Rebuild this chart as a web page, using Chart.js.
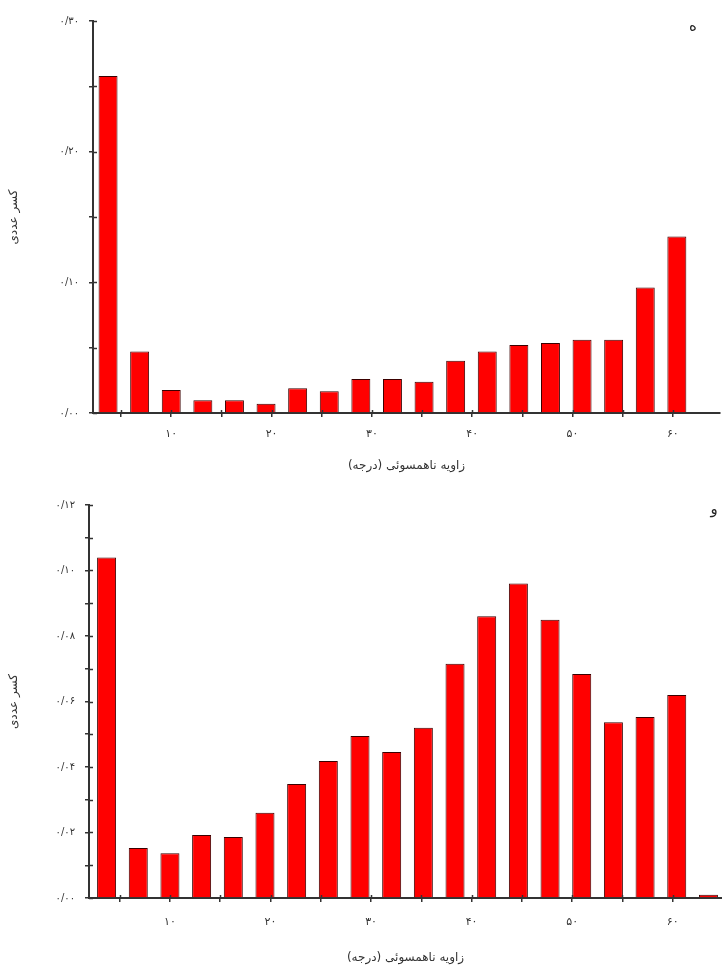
<!DOCTYPE html>
<html>
<head>
<meta charset="utf-8">
<script src="https://cdn.jsdelivr.net/npm/chart.js@4.4.0/dist/chart.umd.min.js"></script>
<style>
  body { margin: 0; background: #fff; }
  .box { position: absolute; left: 0; width: 722px; }
  #top-box { top: 0; height: 482px; }
  #bottom-box { top: 482px; height: 489px; }
</style>
</head>
<body>
<div class="box" id="top-box"><canvas id="chart-top" dir="rtl"></canvas></div>
<div class="box" id="bottom-box"><canvas id="chart-bottom" dir="rtl"></canvas></div>
<script>
// bin centres (degrees) of the misorientation histogram
const binAngles = [3.7, 6.85, 10.0, 13.15, 16.3, 19.45, 22.6, 25.75, 28.9, 32.05,
                   35.2, 38.35, 41.5, 44.65, 47.8, 50.95, 54.1, 57.25, 60.4, 63.55];

// panel e (top)
const fractionTop = [0.258, 0.047, 0.0176, 0.0098, 0.0098, 0.007, 0.019, 0.0167, 0.026, 0.026,
                     0.024, 0.040, 0.047, 0.052, 0.0535, 0.056, 0.056, 0.096, 0.135];
// panel f (bottom)
const fractionBottom = [0.104, 0.0153, 0.0137, 0.0192, 0.0186, 0.026, 0.0348, 0.0418, 0.0495, 0.0446,
                        0.052, 0.0715, 0.086, 0.096, 0.085, 0.0684, 0.0537, 0.0553, 0.062, 0.001];

const xTickValues = [10, 20, 30, 40, 50, 60];
const xTickLabels = ['۱۰', '۲۰', '۳۰', '۴۰', '۵۰', '۶۰'];
const yTopValues = [0, 0.1, 0.2, 0.3];
const yTopLabels = ['۰/۰۰', '۰/۱۰', '۰/۲۰', '۰/۳۰'];
const yBottomValues = [0, 0.02, 0.04, 0.06, 0.08, 0.10, 0.12];
const yBottomLabels = ['۰/۰۰', '۰/۰۲', '۰/۰۴', '۰/۰۶', '۰/۰۸', '۰/۱۰', '۰/۱۲'];

const xTitle = 'زاویه ناهمسوئی (درجه)';
const yTitle = 'کسر عددی';

const FONT = "'DejaVu Sans', sans-serif";

function labelFor(value, values, labels) {
    for (let i = 0; i < values.length; i++) {
        if (Math.abs(values[i] - value) < 1e-6) return labels[i];
    }
    return '';
}

// inner half of the crossing tick marks + panel letter
const extrasPlugin = {
    id: 'extras',
    afterDraw(chart, args, opts) {
        const ctx = chart.ctx;
        const area = chart.chartArea;
        ctx.save();
        ctx.strokeStyle = '#333';
        ctx.lineWidth = 1.5;
        chart.scales.y.ticks.forEach(t => {
            const py = Math.round(chart.scales.y.getPixelForValue(t.value)) + 0.5;
            ctx.beginPath();
            ctx.moveTo(area.left, py);
            ctx.lineTo(area.left + 4, py);
            ctx.stroke();
        });
        chart.scales.x.ticks.forEach(t => {
            const px = Math.round(chart.scales.x.getPixelForValue(t.value)) + 0.5;
            ctx.beginPath();
            ctx.moveTo(px, area.bottom);
            ctx.lineTo(px, area.bottom - 3);
            ctx.stroke();
        });
        ctx.fillStyle = '#222';
        ctx.font = '15px ' + FONT;
        ctx.textAlign = 'center';
        ctx.textBaseline = 'middle';
        ctx.fillText(opts.letter, area.right + opts.dx, area.top + opts.dy);
        ctx.restore();
    }
};

function makeChart(id, values, cfg) {
    const ctx = document.getElementById(id).getContext('2d');
    return new Chart(ctx, {
        type: 'bar',
        data: {
            datasets: [{
                data: values.map((v, i) => ({ x: binAngles[i], y: v })),
                backgroundColor: '#ff0000',
                borderColor: '#3a0000',
                borderWidth: 1,
                barPercentage: 0.6,
                categoryPercentage: 1.0
            }]
        },
        plugins: [extrasPlugin],
        options: {
            responsive: true,
            maintainAspectRatio: false,
            animation: false,
            layout: { padding: { top: cfg.padTop, right: cfg.padRight, left: 0, bottom: 0 } },
            plugins: {
                legend: { display: false },
                tooltip: { enabled: false },
                extras: { letter: cfg.letter, dx: cfg.letterDx, dy: cfg.letterDy }
            },
            scales: {
                x: {
                    type: 'linear',
                    offset: false,
                    min: cfg.xMin,
                    max: cfg.xMax,
                    afterBuildTicks: axis => {
                        axis.ticks = [5, 10, 15, 20, 25, 30, 35, 40, 45, 50, 55, 60].map(v => ({ value: v }));
                    },
                    afterFit: axis => { axis.height = cfg.xAxisHeight; },
                    grid: { drawOnChartArea: false, offset: false, tickLength: 4, color: '#333', lineWidth: 1.5 },
                    border: { color: '#333', width: 2 },
                    ticks: {
                        padding: cfg.xTickPad,
                        color: '#333',
                        font: { family: FONT, size: 11 },
                        maxRotation: 0,
                        autoSkip: false,
                        callback: v => labelFor(v, xTickValues, xTickLabels)
                    },
                    title: {
                        display: true,
                        text: xTitle,
                        color: '#333',
                        font: { family: FONT, size: 12 },
                        padding: { top: 0, bottom: cfg.xTitlePad }
                    }
                },
                y: {
                    min: 0,
                    max: cfg.yMax,
                    afterBuildTicks: axis => {
                        axis.ticks = cfg.yTicks.map(v => ({ value: v }));
                    },
                    afterFit: axis => { axis.width = cfg.yAxisWidth; },
                    grid: { drawOnChartArea: false, tickLength: 4, color: '#333', lineWidth: 1.5 },
                    border: { color: '#333', width: 2 },
                    ticks: {
                        padding: 10,
                        color: '#333',
                        font: { family: FONT, size: 10 },
                        autoSkip: false,
                        callback: v => labelFor(v, cfg.yValues, cfg.yLabels)
                    },
                    title: {
                        display: true,
                        text: yTitle,
                        color: '#333',
                        font: { family: FONT, size: 12 },
                        padding: { top: 7, bottom: 0 }
                    }
                }
            }
        }
    });
}

makeChart('chart-top', fractionTop, {
    padTop: 21, padRight: 2, xMin: 2.2, xMax: 64.7,
    xAxisHeight: 69, yAxisWidth: 93, xTickPad: 11, xTitlePad: 9,
    yMax: 0.3, yTicks: [0, 0.05, 0.1, 0.15, 0.2, 0.25, 0.3],
    yValues: yTopValues, yLabels: yTopLabels,
    letter: 'ه', letterDx: -27, letterDy: 6
});

makeChart('chart-bottom', fractionBottom, {
    padTop: 23, padRight: 0, xMin: 1.95, xMax: 64.9,
    xAxisHeight: 73, yAxisWidth: 89, xTickPad: 14, xTitlePad: 6,
    yMax: 0.12, yTicks: [0, 0.01, 0.02, 0.03, 0.04, 0.05, 0.06, 0.07, 0.08, 0.09, 0.10, 0.11, 0.12],
    yValues: yBottomValues, yLabels: yBottomLabels,
    letter: 'و', letterDx: -8, letterDy: 5
});
</script>
</body>
</html>
